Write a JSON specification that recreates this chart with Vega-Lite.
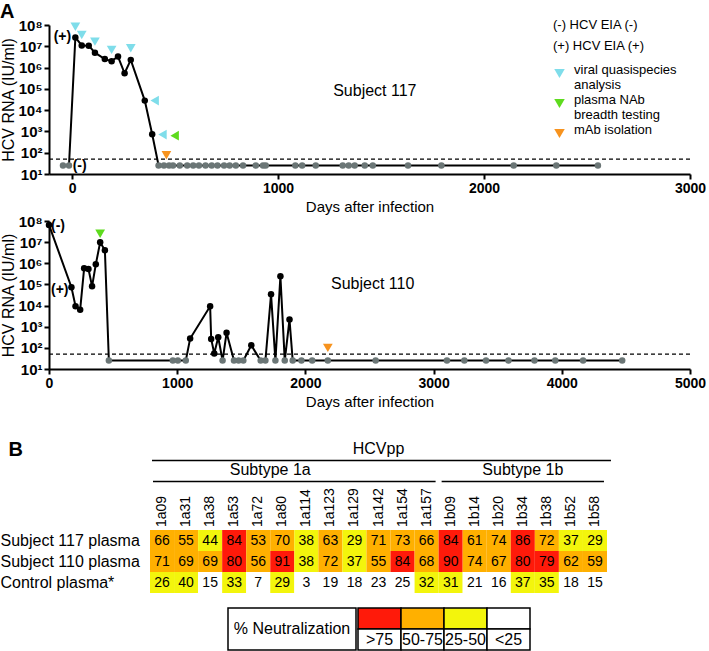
{
  "$schema": "https://vega.github.io/schema/vega-lite/v6.json",
  "padding": {"left": 0, "top": 2, "right": 0, "bottom": 0},
  "title": {"text": "A", "anchor": "start", "frame": "bounds", "fontSize": 20, "fontWeight": "bold", "font": "Liberation Sans", "color": "black", "offset": -4},
  "config": {
    "view": {"stroke": null},
    "font": "Liberation Sans",
    "axis": {"domainColor": "black", "domainWidth": 2, "tickColor": "black", "tickWidth": 2, "tickSize": 5, "labelColor": "black", "labelFont": "Liberation Sans", "labelFontSize": 14, "labelFontWeight": "bold", "titleFont": "Liberation Sans", "titleFontWeight": "normal", "titleColor": "black", "grid": false},
    "text": {"font": "Liberation Sans", "color": "black"}
  },
  "datasets": {
    "s117": [
      {"day": -44, "rna": 25, "status": "undetectable"},
      {"day": -15, "rna": 25, "status": "undetectable"},
      {"day": 16, "rna": 26000000, "status": "detected"},
      {"day": 47, "rna": 11000000, "status": "detected"},
      {"day": 81, "rna": 10700000, "status": "detected"},
      {"day": 111, "rna": 5000000, "status": "detected"},
      {"day": 159, "rna": 2500000, "status": "detected"},
      {"day": 192, "rna": 2000000, "status": "detected"},
      {"day": 223, "rna": 3300000, "status": "detected"},
      {"day": 255, "rna": 540000, "status": "detected"},
      {"day": 285, "rna": 2300000, "status": "detected"},
      {"day": 353, "rna": 28000, "status": "detected"},
      {"day": 389, "rna": 740, "status": "detected"},
      {"day": 420, "rna": 25, "status": "undetectable"},
      {"day": 446, "rna": 25, "status": "undetectable"},
      {"day": 471, "rna": 25, "status": "undetectable"},
      {"day": 490, "rna": 25, "status": "undetectable"},
      {"day": 523, "rna": 25, "status": "undetectable"},
      {"day": 559, "rna": 25, "status": "undetectable"},
      {"day": 588, "rna": 25, "status": "undetectable"},
      {"day": 616, "rna": 25, "status": "undetectable"},
      {"day": 648, "rna": 25, "status": "undetectable"},
      {"day": 678, "rna": 25, "status": "undetectable"},
      {"day": 706, "rna": 25, "status": "undetectable"},
      {"day": 738, "rna": 25, "status": "undetectable"},
      {"day": 765, "rna": 25, "status": "undetectable"},
      {"day": 795, "rna": 25, "status": "undetectable"},
      {"day": 830, "rna": 25, "status": "undetectable"},
      {"day": 892, "rna": 25, "status": "undetectable"},
      {"day": 927, "rna": 25, "status": "undetectable"},
      {"day": 940, "rna": 25, "status": "undetectable"},
      {"day": 1084, "rna": 25, "status": "undetectable"},
      {"day": 1117, "rna": 25, "status": "undetectable"},
      {"day": 1183, "rna": 25, "status": "undetectable"},
      {"day": 1314, "rna": 25, "status": "undetectable"},
      {"day": 1343, "rna": 25, "status": "undetectable"},
      {"day": 1372, "rna": 25, "status": "undetectable"},
      {"day": 1421, "rna": 25, "status": "undetectable"},
      {"day": 1460, "rna": 25, "status": "undetectable"},
      {"day": 1631, "rna": 25, "status": "undetectable"},
      {"day": 1793, "rna": 25, "status": "undetectable"},
      {"day": 2144, "rna": 25, "status": "undetectable"},
      {"day": 2351, "rna": 25, "status": "undetectable"},
      {"day": 2553, "rna": 25, "status": "undetectable"}
    ],
    "s110": [
      {"day": 0, "rna": 65000000, "status": "detected"},
      {"day": 175, "rna": 74000, "status": "detected"},
      {"day": 207, "rna": 9300, "status": "detected"},
      {"day": 243, "rna": 6300, "status": "detected"},
      {"day": 274, "rna": 580000, "status": "detected"},
      {"day": 308, "rna": 540000, "status": "detected"},
      {"day": 336, "rna": 81000, "status": "detected"},
      {"day": 365, "rna": 890000, "status": "detected"},
      {"day": 399, "rna": 9800000, "status": "detected"},
      {"day": 436, "rna": 4100000, "status": "detected"},
      {"day": 467, "rna": 25, "status": "undetectable"},
      {"day": 966, "rna": 25, "status": "undetectable"},
      {"day": 1005, "rna": 25, "status": "undetectable"},
      {"day": 1067, "rna": 25, "status": "undetectable"},
      {"day": 1101, "rna": 275, "status": "detected"},
      {"day": 1257, "rna": 9300, "status": "detected"},
      {"day": 1265, "rna": 263, "status": "detected"},
      {"day": 1289, "rna": 54, "status": "detected"},
      {"day": 1320, "rna": 316, "status": "detected"},
      {"day": 1354, "rna": 25, "status": "undetectable"},
      {"day": 1385, "rna": 513, "status": "detected"},
      {"day": 1443, "rna": 25, "status": "undetectable"},
      {"day": 1479, "rna": 25, "status": "undetectable"},
      {"day": 1516, "rna": 25, "status": "undetectable"},
      {"day": 1578, "rna": 132, "status": "detected"},
      {"day": 1651, "rna": 25, "status": "undetectable"},
      {"day": 1688, "rna": 25, "status": "undetectable"},
      {"day": 1732, "rna": 34000, "status": "detected"},
      {"day": 1766, "rna": 25, "status": "undetectable"},
      {"day": 1805, "rna": 245000, "status": "detected"},
      {"day": 1839, "rna": 25, "status": "undetectable"},
      {"day": 1876, "rna": 2200, "status": "detected"},
      {"day": 1901, "rna": 25, "status": "undetectable"},
      {"day": 1969, "rna": 25, "status": "undetectable"},
      {"day": 2053, "rna": 25, "status": "undetectable"},
      {"day": 2175, "rna": 25, "status": "undetectable"},
      {"day": 2548, "rna": 25, "status": "undetectable"},
      {"day": 3104, "rna": 25, "status": "undetectable"},
      {"day": 3240, "rna": 25, "status": "undetectable"},
      {"day": 3409, "rna": 25, "status": "undetectable"},
      {"day": 3584, "rna": 25, "status": "undetectable"},
      {"day": 3787, "rna": 25, "status": "undetectable"},
      {"day": 3949, "rna": 25, "status": "undetectable"},
      {"day": 4166, "rna": 25, "status": "undetectable"},
      {"day": 4471, "rna": 25, "status": "undetectable"}
    ],
    "arrows117": [
      {"day": 16, "rna": 83000000, "event": "viral quasispecies analysis", "dir": "down"},
      {"day": 47, "rna": 34000000, "event": "viral quasispecies analysis", "dir": "down"},
      {"day": 111, "rna": 16600000, "event": "viral quasispecies analysis", "dir": "down"},
      {"day": 192, "rna": 6800000, "event": "viral quasispecies analysis", "dir": "down"},
      {"day": 285, "rna": 8100000, "event": "viral quasispecies analysis", "dir": "down"},
      {"day": 401, "rna": 28000, "event": "viral quasispecies analysis", "dir": "left"},
      {"day": 439, "rna": 710, "event": "viral quasispecies analysis", "dir": "left"},
      {"day": 498, "rna": 630, "event": "plasma NAb breadth testing", "dir": "left"},
      {"day": 458, "rna": 76, "event": "mAb isolation", "dir": "down"}
    ],
    "arrows110": [
      {"day": 399, "rna": 25000000, "event": "plasma NAb breadth testing", "dir": "down"},
      {"day": 2175, "rna": 100, "event": "mAb isolation", "dir": "down"}
    ],
    "eia117": [
      {"day": -47, "rna": 26000000, "label": "(+)"},
      {"day": 37, "rna": 25, "label": "(-)"}
    ],
    "eia110": [
      {"day": 70, "rna": 58000000, "label": "(-)"},
      {"day": 84, "rna": 52000, "label": "(+)"}
    ],
    "neut": [
      {"plasma": "Subject 117 plasma", "strain": "1a09", "pct": 66},
      {"plasma": "Subject 117 plasma", "strain": "1a31", "pct": 55},
      {"plasma": "Subject 117 plasma", "strain": "1a38", "pct": 44},
      {"plasma": "Subject 117 plasma", "strain": "1a53", "pct": 84},
      {"plasma": "Subject 117 plasma", "strain": "1a72", "pct": 53},
      {"plasma": "Subject 117 plasma", "strain": "1a80", "pct": 70},
      {"plasma": "Subject 117 plasma", "strain": "1a114", "pct": 38},
      {"plasma": "Subject 117 plasma", "strain": "1a123", "pct": 63},
      {"plasma": "Subject 117 plasma", "strain": "1a129", "pct": 29},
      {"plasma": "Subject 117 plasma", "strain": "1a142", "pct": 71},
      {"plasma": "Subject 117 plasma", "strain": "1a154", "pct": 73},
      {"plasma": "Subject 117 plasma", "strain": "1a157", "pct": 66},
      {"plasma": "Subject 117 plasma", "strain": "1b09", "pct": 84},
      {"plasma": "Subject 117 plasma", "strain": "1b14", "pct": 61},
      {"plasma": "Subject 117 plasma", "strain": "1b20", "pct": 74},
      {"plasma": "Subject 117 plasma", "strain": "1b34", "pct": 86},
      {"plasma": "Subject 117 plasma", "strain": "1b38", "pct": 72},
      {"plasma": "Subject 117 plasma", "strain": "1b52", "pct": 37},
      {"plasma": "Subject 117 plasma", "strain": "1b58", "pct": 29},
      {"plasma": "Subject 110 plasma", "strain": "1a09", "pct": 71},
      {"plasma": "Subject 110 plasma", "strain": "1a31", "pct": 69},
      {"plasma": "Subject 110 plasma", "strain": "1a38", "pct": 69},
      {"plasma": "Subject 110 plasma", "strain": "1a53", "pct": 80},
      {"plasma": "Subject 110 plasma", "strain": "1a72", "pct": 56},
      {"plasma": "Subject 110 plasma", "strain": "1a80", "pct": 91},
      {"plasma": "Subject 110 plasma", "strain": "1a114", "pct": 38},
      {"plasma": "Subject 110 plasma", "strain": "1a123", "pct": 72},
      {"plasma": "Subject 110 plasma", "strain": "1a129", "pct": 37},
      {"plasma": "Subject 110 plasma", "strain": "1a142", "pct": 55},
      {"plasma": "Subject 110 plasma", "strain": "1a154", "pct": 84},
      {"plasma": "Subject 110 plasma", "strain": "1a157", "pct": 68},
      {"plasma": "Subject 110 plasma", "strain": "1b09", "pct": 90},
      {"plasma": "Subject 110 plasma", "strain": "1b14", "pct": 74},
      {"plasma": "Subject 110 plasma", "strain": "1b20", "pct": 67},
      {"plasma": "Subject 110 plasma", "strain": "1b34", "pct": 80},
      {"plasma": "Subject 110 plasma", "strain": "1b38", "pct": 79},
      {"plasma": "Subject 110 plasma", "strain": "1b52", "pct": 62},
      {"plasma": "Subject 110 plasma", "strain": "1b58", "pct": 59},
      {"plasma": "Control plasma*", "strain": "1a09", "pct": 26},
      {"plasma": "Control plasma*", "strain": "1a31", "pct": 40},
      {"plasma": "Control plasma*", "strain": "1a38", "pct": 15},
      {"plasma": "Control plasma*", "strain": "1a53", "pct": 33},
      {"plasma": "Control plasma*", "strain": "1a72", "pct": 7},
      {"plasma": "Control plasma*", "strain": "1a80", "pct": 29},
      {"plasma": "Control plasma*", "strain": "1a114", "pct": 3},
      {"plasma": "Control plasma*", "strain": "1a123", "pct": 19},
      {"plasma": "Control plasma*", "strain": "1a129", "pct": 18},
      {"plasma": "Control plasma*", "strain": "1a142", "pct": 23},
      {"plasma": "Control plasma*", "strain": "1a154", "pct": 25},
      {"plasma": "Control plasma*", "strain": "1a157", "pct": 32},
      {"plasma": "Control plasma*", "strain": "1b09", "pct": 31},
      {"plasma": "Control plasma*", "strain": "1b14", "pct": 21},
      {"plasma": "Control plasma*", "strain": "1b20", "pct": 16},
      {"plasma": "Control plasma*", "strain": "1b34", "pct": 37},
      {"plasma": "Control plasma*", "strain": "1b38", "pct": 35},
      {"plasma": "Control plasma*", "strain": "1b52", "pct": 18},
      {"plasma": "Control plasma*", "strain": "1b58", "pct": 15}
    ],
    "header": [
      {"label": "HCVpp", "from": "1a09", "to": "1b58", "mid": "1a142", "level": "_hcv"},
      {"label": "Subtype 1a", "from": "1a09", "to": "1a157", "mid": "1a80", "level": "_sub"},
      {"label": "Subtype 1b", "from": "1b09", "to": "1b58", "mid": "1b34", "level": "_sub"}
    ],
    "legendCells": [
      {"bin": ">75", "part": "swatch"},
      {"bin": "50-75", "part": "swatch"},
      {"bin": "25-50", "part": "swatch"},
      {"bin": "<25", "part": "swatch"},
      {"bin": ">75", "part": "label"},
      {"bin": "50-75", "part": "label"},
      {"bin": "25-50", "part": "label"},
      {"bin": "<25", "part": "label"}
    ]
  },
  "concat": [
    {
      "concat": [
        {
          "width": 641,
          "height": 149,
          "resolve": {"scale": {"color": "independent", "shape": "independent"}},
          "layer": [
            {
              "data": {"values": [{"rna": 50}]},
              "mark": {"type": "rule", "strokeDash": [4, 3], "strokeWidth": 1.2, "color": "black"},
              "encoding": {
                "y": {"field": "rna", "type": "quantitative", "scale": {"type": "log", "domain": [10, 100000000]}, "axis": {"values": [10, 100, 1000, 10000, 100000, 1000000, 10000000, 100000000], "labelExpr": "'10' + ['⁰','¹','²','³','⁴','⁵','⁶','⁷','⁸'][round(log(datum.value)/LN10)]", "title": "HCV RNA (IU/ml)", "titleFontSize": 16, "titlePadding": 1, "labelFontSize": 15}}
              }
            },
            {
              "data": {"name": "s117"},
              "mark": {"type": "line", "color": "black", "strokeWidth": 2},
              "encoding": {
                "x": {"field": "day", "type": "quantitative", "scale": {"domain": [-112, 3000], "nice": false, "zero": false}, "axis": {"values": [0, 1000, 2000, 3000], "format": "d", "title": "Days after infection", "titleFontSize": 15, "labelFlush": false}},
                "y": {"field": "rna", "type": "quantitative", "scale": {"type": "log", "domain": [10, 100000000]}}
              }
            },
            {
              "data": {"name": "s117"},
              "mark": {"type": "point", "filled": true, "size": 42, "opacity": 1},
              "encoding": {
                "x": {"field": "day", "type": "quantitative"},
                "y": {"field": "rna", "type": "quantitative"},
                "color": {"field": "status", "type": "nominal", "scale": {"domain": ["detected", "undetectable"], "range": ["black", "#6B7676"]}, "legend": null}
              }
            },
            {
              "data": {"name": "arrows117"},
              "mark": {"type": "point", "filled": true, "size": 95, "opacity": 1},
              "encoding": {
                "x": {"field": "day", "type": "quantitative"},
                "y": {"field": "rna", "type": "quantitative"},
                "shape": {"field": "dir", "type": "nominal", "scale": {"domain": ["down", "left"], "range": ["triangle-down", "triangle-left"]}, "legend": null},
                "color": {"field": "event", "type": "nominal", "scale": {"domain": ["viral quasispecies analysis", "plasma NAb breadth testing", "mAb isolation"], "range": ["#7FDDEA", "#5EDB1E", "#F7931E"]},
                  "legend": {"orient": "none", "legendX": 504, "legendY": -6, "title": ["(-)  HCV EIA (-)", "(+)  HCV EIA (+)"], "titleFontSize": 13, "titleFontWeight": "normal", "titleColor": "black", "titleLineHeight": 21, "titlePadding": 14, "labelFontSize": 13, "labelColor": "black", "labelLineHeight": 14, "labelBaseline": "alphabetic", "labelOffset": 8, "labelExpr": "datum.value == 'viral quasispecies analysis' ? ['viral quasispecies', 'analysis'] : datum.value == 'plasma NAb breadth testing' ? ['plasma NAb', 'breadth testing'] : datum.value", "symbolType": "triangle-down", "symbolSize": 110, "symbolStrokeWidth": 0, "rowPadding": 1}}
              }
            },
            {
              "data": {"name": "eia117"},
              "mark": {"type": "text", "fontSize": 14, "fontWeight": "bold"},
              "encoding": {
                "x": {"field": "day", "type": "quantitative"},
                "y": {"field": "rna", "type": "quantitative"},
                "text": {"field": "label"}
              }
            },
            {
              "data": {"values": [{"day": 1470, "rna": 78000, "label": "Subject 117"}]},
              "mark": {"type": "text", "fontSize": 16},
              "encoding": {
                "x": {"field": "day", "type": "quantitative"},
                "y": {"field": "rna", "type": "quantitative"},
                "text": {"field": "label"}
              }
            }
          ]
        },
        {
          "width": 641,
          "height": 148,
          "resolve": {"scale": {"color": "independent", "shape": "independent"}},
          "layer": [
            {
              "data": {"values": [{"rna": 50}]},
              "mark": {"type": "rule", "strokeDash": [4, 3], "strokeWidth": 1.2, "color": "black"},
              "encoding": {
                "y": {"field": "rna", "type": "quantitative", "scale": {"type": "log", "domain": [10, 100000000]}, "axis": {"values": [10, 100, 1000, 10000, 100000, 1000000, 10000000, 100000000], "labelExpr": "'10' + ['⁰','¹','²','³','⁴','⁵','⁶','⁷','⁸'][round(log(datum.value)/LN10)]", "title": "HCV RNA (IU/ml)", "titleFontSize": 16, "titlePadding": 1, "labelFontSize": 15}}
              }
            },
            {
              "data": {"name": "s110"},
              "mark": {"type": "line", "color": "black", "strokeWidth": 2},
              "encoding": {
                "x": {"field": "day", "type": "quantitative", "scale": {"domain": [0, 5000], "nice": false, "zero": false}, "axis": {"values": [0, 1000, 2000, 3000, 4000, 5000], "format": "d", "title": "Days after infection", "titleFontSize": 15, "labelFlush": false}},
                "y": {"field": "rna", "type": "quantitative", "scale": {"type": "log", "domain": [10, 100000000]}}
              }
            },
            {
              "data": {"name": "s110"},
              "mark": {"type": "point", "filled": true, "size": 42, "opacity": 1},
              "encoding": {
                "x": {"field": "day", "type": "quantitative"},
                "y": {"field": "rna", "type": "quantitative"},
                "color": {"field": "status", "type": "nominal", "scale": {"domain": ["detected", "undetectable"], "range": ["black", "#6B7676"]}, "legend": null}
              }
            },
            {
              "data": {"name": "arrows110"},
              "mark": {"type": "point", "filled": true, "size": 95, "opacity": 1},
              "encoding": {
                "x": {"field": "day", "type": "quantitative"},
                "y": {"field": "rna", "type": "quantitative"},
                "shape": {"field": "dir", "type": "nominal", "scale": {"domain": ["down", "left"], "range": ["triangle-down", "triangle-left"]}, "legend": null},
                "color": {"field": "event", "type": "nominal", "scale": {"domain": ["viral quasispecies analysis", "plasma NAb breadth testing", "mAb isolation"], "range": ["#7FDDEA", "#5EDB1E", "#F7931E"]}, "legend": null}
              }
            },
            {
              "data": {"name": "eia110"},
              "mark": {"type": "text", "fontSize": 14, "fontWeight": "bold"},
              "encoding": {
                "x": {"field": "day", "type": "quantitative"},
                "y": {"field": "rna", "type": "quantitative"},
                "text": {"field": "label"}
              }
            },
            {
              "data": {"values": [{"day": 2525, "rna": 100000, "label": "Subject 110"}]},
              "mark": {"type": "text", "fontSize": 16},
              "encoding": {
                "x": {"field": "day", "type": "quantitative"},
                "y": {"field": "rna", "type": "quantitative"},
                "text": {"field": "label"}
              }
            }
          ]
        }
      ],
      "columns": 1,
      "align": "none",
      "spacing": 0
    },
    {
      "concat": [
        {
          "width": 558,
          "height": 147,
          "layer": [
            {
              "data": {"name": "neut"},
              "mark": {"type": "rect"},
              "encoding": {
                "x": {"field": "strain", "type": "nominal", "scale": {"domain": ["1a09", "1a31", "1a38", "1a53", "1a72", "1a80", "1a114", "1a123", "1a129", "1a142", "1a154", "1a157", "1b09", "1b14", "1b20", "1b34", "1b38", "1b52", "1b58"], "range": [101, 558], "paddingInner": 0, "paddingOuter": 0}, "axis": null},
                "y": {"field": "plasma", "type": "nominal", "scale": {"domain": ["_hcv", "_sub", "_lab1", "_lab2", "Subject 117 plasma", "Subject 110 plasma", "Control plasma*"], "paddingInner": 0, "paddingOuter": 0},
                  "axis": {"title": "B", "titleAngle": 0, "titleFontSize": 20, "titleFontWeight": "bold", "titleAlign": "left", "titleBaseline": "middle", "titleX": -41, "titleY": 3, "domain": false, "ticks": false, "labelFontWeight": "normal", "labelFontSize": 16, "labelAlign": "left", "labelPadding": 49, "labelExpr": "datum.value == '_hcv' || datum.value == '_sub' || datum.value == '_lab1' || datum.value == '_lab2' ? '' : datum.value"}},
                "color": {"field": "pct", "type": "quantitative", "scale": {"type": "threshold", "domain": [25.5, 50, 75], "range": ["#FFFFFF", "#F3F50C", "#FFB000", "#FF1A0A"]}, "legend": null}
              }
            },
            {
              "data": {"name": "neut"},
              "mark": {"type": "text", "fontSize": 14},
              "encoding": {
                "x": {"field": "strain", "type": "nominal", "axis": null},
                "y": {"field": "plasma", "type": "nominal"},
                "text": {"field": "pct"}
              }
            },
            {
              "data": {"name": "neut"},
              "transform": [{"filter": "datum.plasma == 'Subject 117 plasma'"}],
              "mark": {"type": "text", "fontSize": 14, "angle": 270, "align": "left", "baseline": "middle"},
              "encoding": {
                "x": {"field": "strain", "type": "nominal", "axis": null},
                "y": {"datum": "_lab2", "type": "nominal", "bandPosition": 0.86},
                "text": {"field": "strain"}
              }
            },
            {
              "data": {"name": "header"},
              "transform": [{"filter": "datum.label == 'HCVpp'"}],
              "mark": {"type": "rule", "strokeWidth": 1.5, "color": "black", "xOffset": 2, "x2Offset": 16},
              "encoding": {
                "x": {"field": "from", "type": "nominal", "bandPosition": 0, "axis": null},
                "x2": {"field": "to"},
                "y": {"field": "level", "type": "nominal", "bandPosition": 0.69}
              }
            },
            {
              "data": {"name": "header"},
              "transform": [{"filter": "datum.label != 'HCVpp'"}],
              "mark": {"type": "rule", "strokeWidth": 1.5, "color": "black", "xOffset": 3, "x2Offset": 9},
              "encoding": {
                "x": {"field": "from", "type": "nominal", "bandPosition": 0, "axis": null},
                "x2": {"field": "to"},
                "y": {"field": "level", "type": "nominal", "bandPosition": 0.69}
              }
            },
            {
              "data": {"name": "header"},
              "transform": [{"filter": "datum.label != 'Subtype 1a'"}],
              "mark": {"type": "text", "fontSize": 16},
              "encoding": {
                "x": {"field": "mid", "type": "nominal", "bandPosition": 0.5, "axis": null},
                "y": {"field": "level", "type": "nominal", "bandPosition": 0.12},
                "text": {"field": "label"}
              }
            },
            {
              "data": {"name": "header"},
              "transform": [{"filter": "datum.label == 'Subtype 1a'"}],
              "mark": {"type": "text", "fontSize": 16},
              "encoding": {
                "x": {"field": "mid", "type": "nominal", "bandPosition": 0, "axis": null},
                "y": {"field": "level", "type": "nominal", "bandPosition": 0.12},
                "text": {"field": "label"}
              }
            }
          ]
        },
        {
          "hconcat": [
            {
              "width": 178,
              "height": 42,
              "data": {"values": []},
              "mark": "text",
              "encoding": {}
            },
            {
              "width": 128,
              "height": 42,
              "view": {"stroke": "black", "strokeWidth": 1.5},
              "data": {"values": [{"t": "% Neutralization"}]},
              "mark": {"type": "text", "fontSize": 16},
              "encoding": {"text": {"field": "t"}}
            },
            {
              "width": 172,
              "height": 42,
              "data": {"name": "legendCells"},
              "layer": [
                {
                  "mark": {"type": "rect", "stroke": "black", "strokeWidth": 1.5},
                  "encoding": {
                    "x": {"field": "bin", "type": "nominal", "scale": {"domain": [">75", "50-75", "25-50", "<25"], "paddingInner": 0, "paddingOuter": 0}, "axis": null},
                    "y": {"field": "part", "type": "nominal", "scale": {"domain": ["swatch", "label"], "paddingInner": 0, "paddingOuter": 0}, "axis": null},
                    "color": {"condition": {"test": "datum.part == 'label'", "value": "#FFFFFF"}, "field": "bin", "type": "nominal", "scale": {"domain": [">75", "50-75", "25-50", "<25"], "range": ["#FF1A0A", "#FFB000", "#F3F50C", "#FFFFFF"]}, "legend": null}
                  }
                },
                {
                  "transform": [{"filter": "datum.part == 'label'"}],
                  "mark": {"type": "text", "fontSize": 16},
                  "encoding": {
                    "x": {"field": "bin", "type": "nominal"},
                    "y": {"field": "part", "type": "nominal"},
                    "text": {"field": "bin"}
                  }
                }
              ]
            }
          ],
          "spacing": 0
        }
      ],
      "columns": 1,
      "align": "none",
      "spacing": 14
    }
  ],
  "columns": 1,
  "align": "none",
  "spacing": 30
}
